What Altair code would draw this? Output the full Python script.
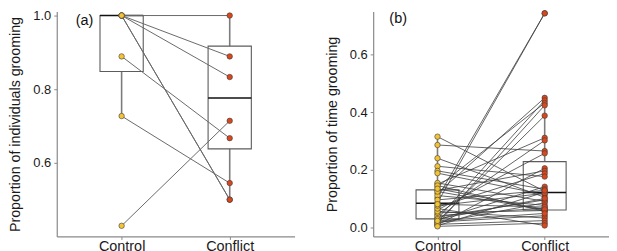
import altair as alt
import pandas as pd

groups = ["Control", "Conflict"]
FONT = "Liberation Sans"
YELLOW = "#F3C335"
RED = "#D9471C"

# ---------- Panel (a): proportion of individuals grooming ----------
a_control = [1.0, 1.0, 1.0, 1.0, 1.0, 0.889, 0.727, 0.429]
a_conflict = [1.0, 0.889, 0.833, 0.5, 0.5, 0.667, 0.545, 0.714]
a_lo = [0.727, 0.5]
a_q1 = [0.848, 0.638]
a_med = [1.0, 0.776]
a_q3 = [1.0, 0.917]
a_hi = [1.0, 1.0]

# ---------- Panel (b): proportion of time grooming ----------
b_control = [0.085, 0.102, 0.118, 0.030, 0.140, 0.012, 0.020, 0.150, 0.045, 0.286,
             0.060, 0.008, 0.128, 0.070, 0.212, 0.025, 0.196, 0.315, 0.005, 0.188,
             0.240, 0.035, 0.154, 0.015, 0.110, 0.040, 0.124, 0.050, 0.145, 0.018,
             0.055, 0.010, 0.003, 0.065, 0.075, 0.095, 0.028, 0.080, 0.134, 0.022]
b_conflict = [0.744, 0.744, 0.450, 0.441, 0.432, 0.424, 0.388, 0.311, 0.302, 0.265,
              0.257, 0.205, 0.196, 0.187, 0.176, 0.141, 0.132, 0.125, 0.122, 0.113,
              0.104, 0.095, 0.090, 0.085, 0.076, 0.067, 0.060, 0.058, 0.055, 0.040,
              0.032, 0.023, 0.014, 0.006, 0.118, 0.128, 0.100, 0.070, 0.062, 0.048]
b_lo = [0.005, 0.006]
b_q1 = [0.029, 0.060]
b_med = [0.083, 0.121]
b_q3 = [0.130, 0.228]
b_hi = [0.315, 0.450]


def long_frame(ctrl, conf):
    rows = []
    for i, (c, k) in enumerate(zip(ctrl, conf)):
        rows.append({"id": i, "g": 1, "grp": groups[0], "v": c})
        rows.append({"id": i, "g": 2, "grp": groups[1], "v": k})
    return pd.DataFrame(rows)


def box_frame(lo, q1, med, q3, hi):
    return pd.DataFrame({
        "g": [1, 2],
        "x0": [0.8, 1.8],
        "x1": [1.2, 2.2],
        "lo": lo, "q1": q1, "med": med, "q3": q3, "hi": hi,
    })


def panel(ctrl, conf, lo, q1, med, q3, hi, ydom, yticks, ytitle, tag, tag_x, tag_y,
          width, height, line_color, line_width):
    long_df = long_frame(ctrl, conf)
    box_df = box_frame(lo, q1, med, q3, hi)
    tag_df = pd.DataFrame({"x": [tag_x], "y": [tag_y], "t": [tag]})

    xs = alt.Scale(domain=[0.4, 2.6], nice=False, zero=False)
    ys = alt.Scale(domain=ydom, nice=False, zero=False)
    xaxis = alt.Axis(values=[1, 2], labelExpr="datum.value == 1 ? 'Control' : 'Conflict'",
                     tickSize=3, labelPadding=0, labelFontSize=14.5, grid=False)
    yaxis = alt.Axis(values=yticks, format=".1f", tickSize=3, labelPadding=3,
                     titlePadding=10, labelFontSize=13, titleFontSize=14.3, grid=False)

    X = lambda f: alt.X(f, scale=xs, axis=xaxis, title=None)
    Y = lambda f: alt.Y(f, scale=ys, axis=yaxis, title=ytitle)

    base_box = alt.Chart(box_df)
    whisk_lo = base_box.mark_rule(color="#7c7c7c", strokeWidth=1.6).encode(
        x=X("g:Q"), y=Y("lo:Q"), y2="q1:Q")
    whisk_hi = base_box.mark_rule(color="#7c7c7c", strokeWidth=1.6).encode(
        x=X("g:Q"), y=Y("q3:Q"), y2="hi:Q")
    box = base_box.mark_rect(fill="transparent", stroke="#5c5c5c", strokeWidth=1.1).encode(
        x=X("x0:Q"), x2="x1:Q", y=Y("q1:Q"), y2="q3:Q")
    median = base_box.mark_rule(color="#111111", strokeWidth=1.5).encode(
        x=X("x0:Q"), x2="x1:Q", y=Y("med:Q"))

    lines = alt.Chart(long_df).mark_line(color=line_color, strokeWidth=line_width).encode(
        x=X("g:Q"), y=Y("v:Q"), detail="id:N")
    points = alt.Chart(long_df).mark_circle(size=30, opacity=1, stroke="#3b3b3b",
                                            strokeWidth=0.6).encode(
        x=X("g:Q"), y=Y("v:Q"),
        fill=alt.Fill("grp:N", scale=alt.Scale(domain=groups, range=[YELLOW, RED]),
                      legend=None))
    label = alt.Chart(tag_df).mark_text(align="left", baseline="middle", fontSize=14.5,
                                        font=FONT, color="#111111").encode(
        x=X("x:Q"), y=Y("y:Q"), text="t:N")

    return alt.layer(whisk_lo, whisk_hi, box, median, lines, points, label).properties(
        width=width, height=height)


pa = panel(a_control, a_conflict, a_lo, a_q1, a_med, a_q3, a_hi,
           [0.4, 1.0107], [0.6, 0.8, 1.0], "Proportion of individuals grooming",
           "(a)", 0.575, 0.985, 239, 226, "#6a6a6a", 1.0)
pb = panel(b_control, b_conflict, b_lo, b_q1, b_med, b_q3, b_hi,
           [-0.0322, 0.750], [0.0, 0.2, 0.4, 0.6], "Proportion of time grooming",
           "(b)", 0.551, 0.724, 237, 226, "#3c3c3c", 0.8)

chart = alt.hconcat(pa, pb, spacing=30).properties(
    padding={"left": 0, "top": 0, "right": 0, "bottom": 0}
).configure_view(strokeWidth=0).configure_axis(
    domainColor="#8a8a8a", tickColor="#8a8a8a", domainWidth=1.2,
    labelColor="#1a1a1a", titleColor="#1a1a1a",
    labelFont=FONT, titleFont=FONT, titleFontWeight="normal"
)

chart.save("out.html", embed_options={"renderer": "svg", "actions": False})
